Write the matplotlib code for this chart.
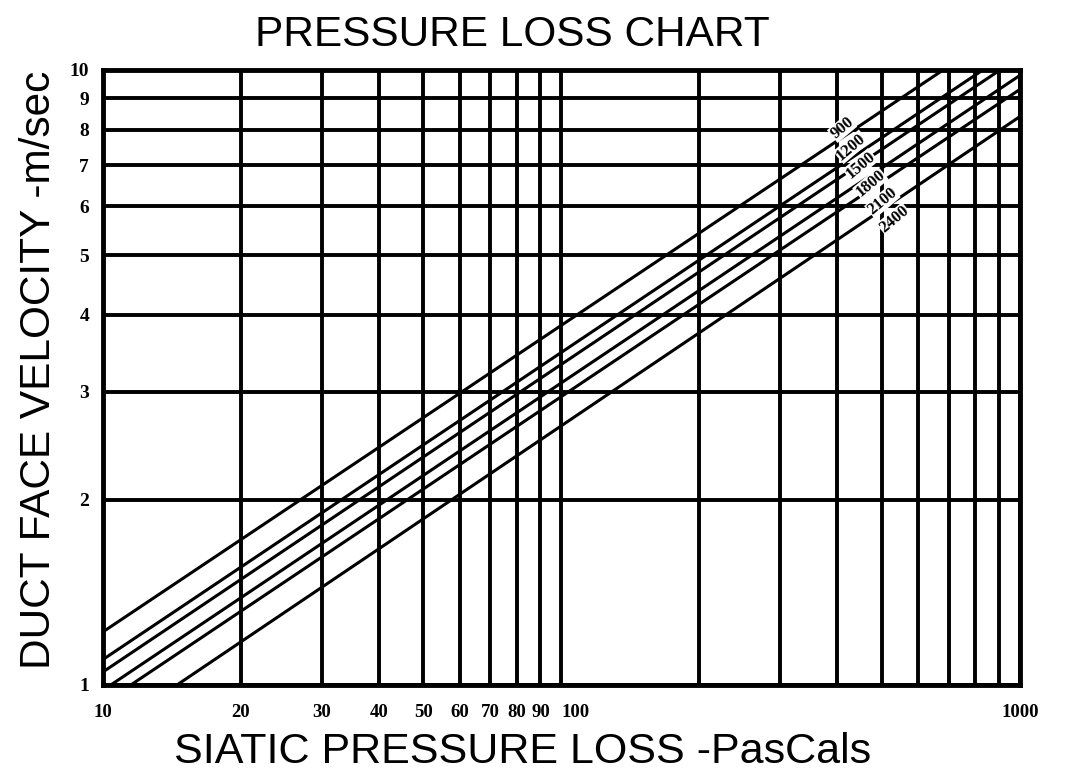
import matplotlib.pyplot as plt
from matplotlib.ticker import FixedLocator, NullLocator

# duct curves: (pressure, velocity) at both ends
CURVES = ['900', '1200', '1500', '1800', '2100', '2400']
P_START = [10, 10, 10, 10.4, 11.5, 14.5]
V_START = [1.22, 1.10, 1.05, 1.0, 1.0, 1.0]
P_END = [680, 830, 905, 1000, 1000, 1000]
V_END = [10, 10, 10, 9.8, 9.3, 8.4]

X_GRID = [10, 20, 30, 40, 50, 60, 70, 80, 90, 100,
          200, 300, 400, 500, 600, 700, 800, 900, 1000]
X_LABELED = [10, 20, 30, 40, 50, 60, 70, 80, 90, 100, 1000]
Y_GRID = [1, 2, 3, 4, 5, 6, 7, 8, 9, 10]

# label spots along the diagonal, axes fraction
LABEL_POS = [(0.806, 0.905), (0.816, 0.875), (0.826, 0.845),
             (0.837, 0.815), (0.850, 0.786), (0.863, 0.757)]

fig = plt.figure(figsize=(10.77, 7.76), dpi=100)
ax = fig.add_axes([0.0956, 0.1173, 0.8514, 0.7925])
ax.set_xscale('log')
ax.set_yscale('log')
ax.set_xlim(10, 1000)
ax.set_ylim(1, 10)

for x in X_GRID:
    ax.axvline(x, color='black', lw=2.8, zorder=1)
for y in Y_GRID:
    ax.axhline(y, color='black', lw=2.8, zorder=1)

for i, name in enumerate(CURVES):
    ax.plot([P_START[i], P_END[i]], [V_START[i], V_END[i]],
            color='black', lw=2.2, zorder=2)
    ax.text(LABEL_POS[i][0], LABEL_POS[i][1], name, transform=ax.transAxes,
            rotation=40, ha='center', va='center', fontsize=12,
            family='Liberation Serif', weight='bold', zorder=3,
            bbox=dict(facecolor='white', edgecolor='none', pad=0.2))

ax.xaxis.set_major_locator(FixedLocator(X_LABELED))
ax.xaxis.set_minor_locator(NullLocator())
ax.set_xticklabels([str(v) for v in X_LABELED])
ax.yaxis.set_major_locator(FixedLocator(Y_GRID))
ax.yaxis.set_minor_locator(NullLocator())
ax.set_yticklabels([str(v) for v in Y_GRID])
ax.tick_params(axis='x', length=0, pad=14, labelsize=13.5)
ax.tick_params(axis='y', length=0, pad=10, labelsize=14)
for lbl in ax.get_xticklabels() + ax.get_yticklabels():
    lbl.set_family('Liberation Serif')
    lbl.set_weight('bold')
    if lbl.get_text() == '100':
        lbl.set_horizontalalignment('left')

for sp in ax.spines.values():
    sp.set_linewidth(3.5)

fig.text(0.476, 0.955, 'PRESSURE LOSS CHART', fontsize=30.5,
         family='Liberation Sans', ha='center', va='center')
fig.text(0.485, 0.031, 'SIATIC PRESSURE LOSS -PasCals', fontsize=31,
         family='Liberation Sans', ha='center', va='center')
fig.text(0.036, 0.523, 'DUCT FACE VELOCITY -m/sec', fontsize=30.5,
         family='Liberation Sans', ha='center', va='center', rotation=90)

plt.savefig('out.png', dpi=100)
